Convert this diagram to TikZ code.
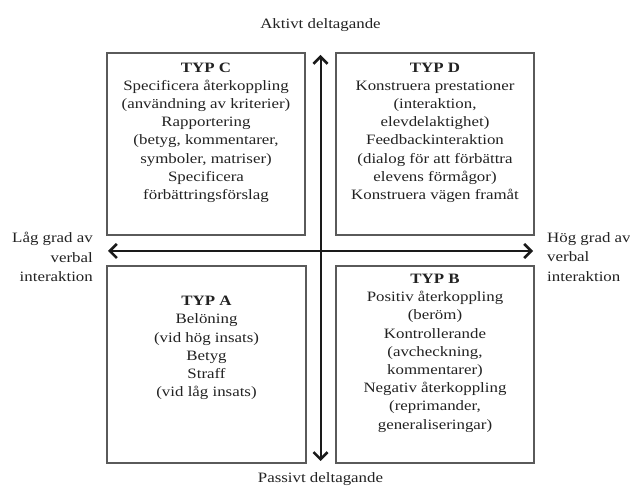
\documentclass[tikz,border=0pt]{standalone}
\usepackage{fontspec}
\setmainfont{Liberation Serif}[FakeStretch=1.18]
\usetikzlibrary{arrows.meta}
\definecolor{boxline}{HTML}{5A5A5A}
\definecolor{axisline}{HTML}{1A1A1A}
\definecolor{txt}{HTML}{222222}
\tikzset{
  quadbox/.style={draw=boxline, line width=1.3pt, fill=none},
  boxtext/.style={align=center, inner sep=0pt, anchor=north, text=txt,
    font=\fontsize{14.3}{18.2}\selectfont},
  sidetext/.style={inner sep=0pt, anchor=north, text=txt,
    font=\fontsize{14.3}{19.5}\selectfont},
  axislabel/.style={inner sep=0pt, anchor=base, text=txt,
    font=\fontsize{14.3}{18.2}\selectfont},
  axisarrow/.style={draw=axisline, line width=2pt,
    {Straight Barb[length=7pt,width=14pt,line width=2.6pt]}-{Straight Barb[length=7pt,width=14pt,line width=2.6pt]}}
}
\begin{document}
\begin{tikzpicture}[x=1pt,y=-1pt]
\useasboundingbox (0,0) rectangle (630,486);
\fill[white] (0,0) rectangle (630,486);

% boxes
\draw[quadbox] (107,53) rectangle (305,235);
\draw[quadbox] (336,53) rectangle (534,235);
\draw[quadbox] (107,266) rectangle (306,463);
\draw[quadbox] (336,266) rectangle (534,463);

% axes
\coordinate (top) at (320.5,55);
\coordinate (bottom) at (320.5,461);
\coordinate (left) at (108,251);
\coordinate (right) at (533,251);
\draw[axisarrow] (bottom) -- (top);
\draw[axisarrow] (left) -- (right);

% box texts
\node[boxtext] (typc) at (206,62.5) {\textbf{TYP C}\\Specificera återkoppling\\(användning av kriterier)\\Rapportering\\(betyg, kommentarer,\\symboler, matriser)\\Specificera\\förbättringsförslag};
\node[boxtext] (typd) at (435,62.5) {\textbf{TYP D}\\Konstruera prestationer\\(interaktion,\\elevdelaktighet)\\Feedbackinteraktion\\(dialog för att förbättra\\elevens förmågor)\\Konstruera vägen framåt};
\node[boxtext] (typa) at (206.5,296) {\textbf{TYP A}\\Belöning\\(vid hög insats)\\Betyg\\Straff\\(vid låg insats)};
\node[boxtext] (typb) at (435,274) {\textbf{TYP B}\\Positiv återkoppling\\(beröm)\\Kontrollerande\\(avcheckning,\\kommentarer)\\Negativ återkoppling\\(reprimander,\\generaliseringar)};

% axis labels
\node[axislabel] (aktivt) at (320.5,29) {Aktivt deltagande};
\node[axislabel] (passivt) at (320.5,483) {Passivt deltagande};
\node[sidetext, align=right, anchor=north east] (lag) at (93,232) {Låg grad av\\verbal\\interaktion};
\node[sidetext, align=left, anchor=north west] (hog) at (547,232) {Hög grad av\\verbal\\interaktion};
\end{tikzpicture}
\end{document}
